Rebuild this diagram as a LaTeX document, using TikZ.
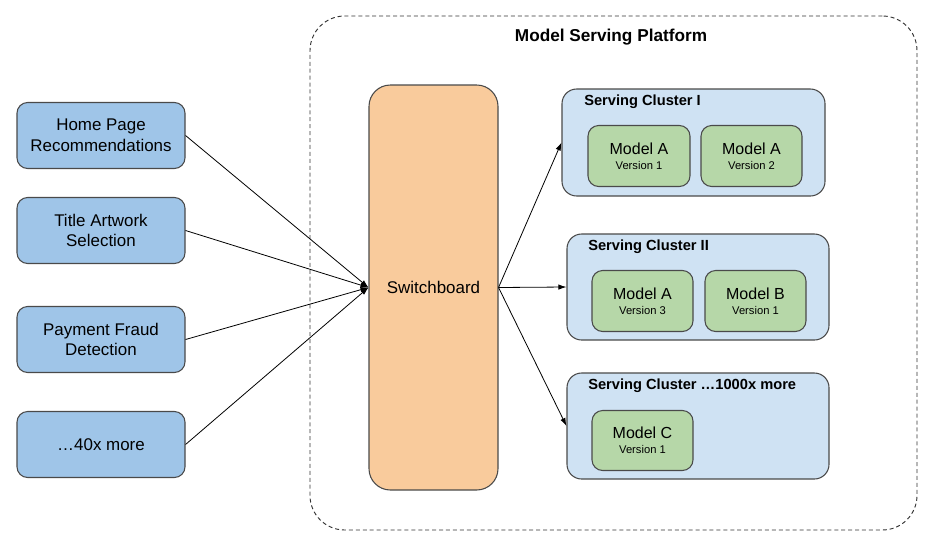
\documentclass[tikz,border=0pt]{standalone}
\usepackage{fontspec}
\setmainfont{Liberation Sans}
\usetikzlibrary{arrows.meta}
\definecolor{leftfill}{HTML}{9FC5E8}
\definecolor{swfill}{HTML}{F9CB9C}
\definecolor{clfill}{HTML}{CFE2F3}
\definecolor{mdfill}{HTML}{B6D7A8}
\definecolor{bord}{HTML}{4A4A4A}
\newcommand{\pxunit}{0.75pt}
\tikzset{
  srcbox/.style={draw=bord, line width=0.8pt, fill=leftfill, rounded corners=8pt,
    minimum width=168*\pxunit, minimum height=66*\pxunit, align=center,
    font=\fontsize{12.7pt}{15.5pt}\selectfont, inner sep=0pt},
  swbox/.style={draw=bord, line width=0.8pt, fill=swfill, rounded corners=16pt,
    minimum width=129*\pxunit, minimum height=405*\pxunit,
    font=\fontsize{12.7pt}{15.5pt}\selectfont, inner sep=0pt},
  clbox/.style={draw=bord, line width=0.8pt, fill=clfill, rounded corners=11pt,
    minimum width=262*\pxunit, minimum height=106*\pxunit, inner sep=0pt},
  mdbox/.style={draw=bord, line width=0.8pt, fill=mdfill, rounded corners=8pt,
    minimum width=101*\pxunit, minimum height=61*\pxunit, align=center, inner sep=0pt},
  cltitle/.style={anchor=west, font=\fontsize{11pt}{13pt}\selectfont\bfseries, inner sep=0pt},
  arr/.style={-{Latex[length=6pt,width=4pt]}, line width=0.6pt, draw=black},
  outerbox/.style={draw=black!80, dash pattern=on 3pt off 2.2pt, line width=0.7pt,
    rounded corners=26pt, minimum width=607*\pxunit, minimum height=514*\pxunit, inner sep=0pt},
}
\newcommand{\mdl}[2]{{\fontsize{12pt}{13.5pt}\selectfont #1}\\[-1pt]{\fontsize{8.4pt}{10pt}\selectfont #2}}
\begin{document}
\begin{tikzpicture}[x=0.75pt, y=-0.75pt]
\useasboundingbox (0,0) rectangle (935,554);
% outer platform
\node[outerbox] (plat) at (613.5,273) {};
\node[font=\fontsize{12.9pt}{15pt}\selectfont\bfseries, inner sep=0pt] (ptitle) at (611,37) {Model Serving Platform};
% sources
\node[srcbox] (s1) at (101,135.5) {Home Page\\Recommendations};
\node[srcbox] (s2) at (101,230.5) {Title Artwork\\Selection};
\node[srcbox] (s3) at (101,339.5) {Payment Fraud\\Detection};
\node[srcbox] (s4) at (101,444.5) {…40x more};
% switchboard
\node[swbox] (sw) at (433.5,287.5) {Switchboard};
% clusters
\node[clbox, minimum width=263*\pxunit, minimum height=107*\pxunit] (c1) at (693.5,142.5) {};
\node[cltitle] (t1) at (584,102) {Serving Cluster I};
\node[mdbox, minimum width=102*\pxunit] (m1) at (639,156) {\mdl{Model A}{Version 1}};
\node[mdbox] (m2) at (751.5,156) {\mdl{Model A}{Version 2}};
\node[clbox] (c2) at (698,287) {};
\node[cltitle] (t2) at (588,247) {Serving Cluster II};
\node[mdbox] (m3) at (642.5,301) {\mdl{Model A}{Version 3}};
\node[mdbox] (m4) at (755.5,301) {\mdl{Model B}{Version 1}};
\node[clbox] (c3) at (698,426) {};
\node[cltitle] (t3) at (588,386) {Serving Cluster …1000x more};
\node[mdbox, minimum height=60*\pxunit] (m5) at (642.5,440.5) {\mdl{Model C}{Version 1}};
% connectors
\draw[arr] (s1.east) -- (sw.west);
\draw[arr] (s2.east) -- (sw.west);
\draw[arr] (s3.east) -- (sw.west);
\draw[arr] (s4.east) -- (sw.west);
\draw[arr] (sw.east) -- (c1.west);
\draw[arr] (sw.east) -- (c2.west);
\draw[arr] (sw.east) -- (c3.west);
\end{tikzpicture}
\end{document}
